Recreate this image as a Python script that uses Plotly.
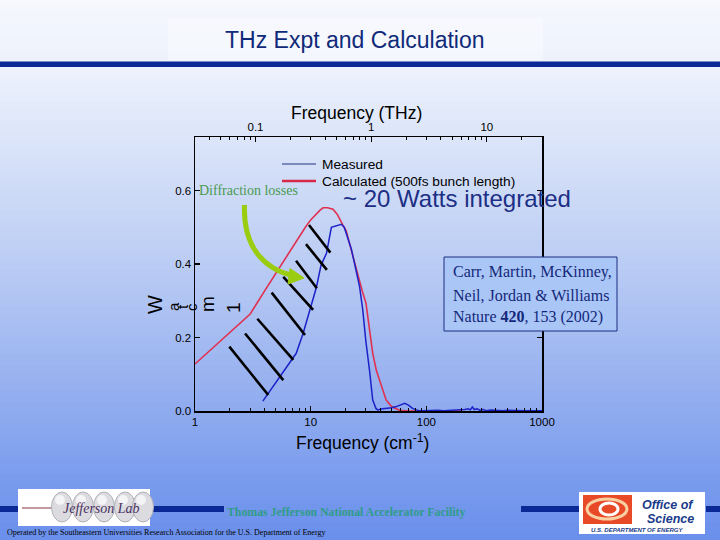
import plotly.graph_objects as go
import math

# ---------------- data ----------------
meas_x = [3.86, 4.5, 5.5, 6.5, 7.5, 8.6, 10, 11.2, 12.3, 13.7, 15.1, 16.5, 18.4, 19.5, 21, 22.5,
          24, 26.5, 28.2, 30, 32.3, 33.3, 34.4, 36.7, 38, 42, 45, 50, 55, 60, 65, 70, 76, 82, 87,
          95, 105, 113, 125, 140, 160, 180, 200, 215, 230, 240, 250, 260, 275, 290, 310, 330, 360,
          390, 420, 460, 500, 560, 620, 700, 800, 900, 1000]
meas_y = [0.027, 0.057, 0.096, 0.128, 0.157, 0.211, 0.281, 0.336, 0.397, 0.429, 0.50, 0.503, 0.508,
          0.50, 0.47, 0.44, 0.40, 0.338, 0.275, 0.19, 0.11, 0.06, 0.03, 0.007, 0.003, 0.006, 0.007,
          0.009, 0.012, 0.016, 0.021, 0.016, 0.007, 0.003, 0.001, 0.001, 0.002, 0.001, 0.002, 0.001,
          0.002, 0.001, 0.002, 0.004, 0.006, 0.003, 0.011, 0.004, 0.006, 0.002, 0.004, 0.001, 0.003,
          0.002, 0.003, 0.001, 0.002, 0.001, 0.001, 0.001, 0.001, 0.001, 0.001]

calc_x = [1, 1.5, 2, 3, 4, 5, 6, 7, 8, 9, 10, 11, 12, 12.8, 14, 15.6, 17, 19, 20.3, 21.5, 23.2, 26,
          28, 30.1, 32, 34.4, 37, 39.3, 42, 44.9, 50, 58.5, 70, 100, 150, 200]
calc_y = [0.128, 0.178, 0.215, 0.264, 0.327, 0.375, 0.414, 0.447, 0.476, 0.50, 0.52, 0.535, 0.546,
          0.553, 0.553, 0.549, 0.535, 0.506, 0.49, 0.46, 0.42, 0.36, 0.325, 0.293, 0.225, 0.157,
          0.11, 0.084, 0.055, 0.03, 0.012, 0.002, 0, 0, 0, 0]

# hatching strokes (data units: cm^-1, W/cm^-1)
hatch_x0 = [1.98, 2.71, 3.46, 4.60, 5.80, 7.47, 9.11, 9.67]
hatch_y0 = [0.175, 0.211, 0.251, 0.322, 0.365, 0.409, 0.454, 0.506]
hatch_x1 = [4.30, 5.80, 7.08, 8.93, 10.5, 11.3, 13.8, 14.8]
hatch_y1 = [0.0435, 0.084, 0.139, 0.207, 0.275, 0.334, 0.384, 0.431]

cm_ticks = [1, 10, 100, 1000]
cm_ticktext = ["1", "10", "100", "1000"]
thz_ticks = [0.1, 1, 10]
thz_ticktext = ["0.1", "1", "10"]
y_ticks = [0.0, 0.2, 0.4, 0.6]
y_ticktext = ["0.0", "0.2", "0.4", "0.6"]
CM_PER_THZ = 33.356

# ---------------- geometry helpers ----------------
W, H = 720, 540
def P(x, y):
    return x / W, 1 - y / H

SANS = "Liberation Sans"
SERIF = "Liberation Serif"
NAVY = "#0a2896"

shapes = []
annotations = []

def rect(x0, y0, x1, y1, fill, line_color=None, lw=0, layer="below", opacity=1):
    a, b = P(x0, y0)
    c, d = P(x1, y1)
    shapes.append(dict(type="rect", xref="paper", yref="paper", x0=a, y0=b, x1=c, y1=d,
                       fillcolor=fill, opacity=opacity,
                       line=dict(color=line_color or fill, width=lw), layer=layer))

def ellipse(cx, cy, rx, ry, fill, line_color, lw=1, layer="above"):
    a, b = P(cx - rx, cy - ry)
    c, d = P(cx + rx, cy + ry)
    shapes.append(dict(type="circle", xref="paper", yref="paper", x0=a, y0=b, x1=c, y1=d,
                       fillcolor=fill, line=dict(color=line_color, width=lw), layer=layer))

def seg(x0, y0, x1, y1, color, lw, layer="above"):
    a, b = P(x0, y0)
    c, d = P(x1, y1)
    shapes.append(dict(type="line", xref="paper", yref="paper", x0=a, y0=b, x1=c, y1=d,
                       line=dict(color=color, width=lw), layer=layer))

def text(x, y, s, size, color="black", family=SANS, xanchor="center", angle=0):
    a, b = P(x, y)
    annotations.append(dict(x=a, y=b, xref="paper", yref="paper", text=s, showarrow=False,
                            xanchor=xanchor, yanchor="middle", textangle=angle,
                            font=dict(size=size, color=color, family=family)))

# ---------------- background gradient ----------------
stops = [(0, (246, 248, 253)), (70, (236, 241, 252)), (160, (214, 225, 248)),
         (270, (185, 203, 244)), (380, (152, 178, 240)), (470, (125, 158, 238)),
         (540, (106, 143, 236))]
def grad(y):
    for (ya, ca), (yb, cb) in zip(stops[:-1], stops[1:]):
        if ya <= y <= yb:
            t = (y - ya) / (yb - ya)
            return "rgb(%d,%d,%d)" % tuple(round(ca[i] + t * (cb[i] - ca[i])) for i in range(3))
    return "rgb(106,143,236)"
step = 6
for i in range(0, H, step):
    rect(0, i, W, i + step + 0.6, grad(i + step / 2))

# title box + rule
rect(168, 18, 543, 60, "white", opacity=0.35)
rect(0, 61.5, W, 67, NAVY)

# footer bars
for a, b in [(0, 18), (150, 224), (521, 579), (706, 720)]:
    rect(a, 506, b, 512, NAVY)

# Jefferson Lab logo
rect(18, 489, 150, 526, "white", layer="above")
seg(22, 508, 55, 508, "#8a3040", 1)
for cx in [62, 83, 104, 125, 143]:
    ellipse(cx, 507, 10.5, 15, "#dcdce0", "#b0b0b8", 1)
    ellipse(cx - 2, 500, 5, 5, "#f4f4f6", "#f4f4f6", 0)
text(101, 508, "<i>Jefferson Lab</i>", 14, "#4a3060", SERIF)

# Office of Science logo
rect(579, 492, 705, 534, "white", layer="above")
rect(583, 495, 632, 524, "#e84a28", layer="above")
ellipse(607, 509, 20, 10, "rgba(0,0,0,0)", "#fbd0a0", 3)
ellipse(609, 509, 9, 6, "rgba(0,0,0,0)", "white", 3)
text(668, 505, "<b><i>Office of</i></b>", 12.5, "#1a3a8a", SANS)
text(670, 518.5, "<b><i>Science</i></b>", 12.5, "#1a3a8a", SANS)
text(637, 529.5, "<b><i>U.S. DEPARTMENT OF ENERGY</i></b>", 6, "#1a3a8a", SANS)

# footer texts
text(345.5, 512, "<b>Thomas Jefferson National Accelerator Facility</b>", 11.8, "#2f9c88", SERIF)
text(5, 532.5, "Operated by the Southeastern Universities Research Association for the U.S. Department of Energy",
     8, "black", SERIF, xanchor="left")

# title
text(355, 39.5, "THz Expt and Calculation", 23, "#102a7a", SANS)

# legend (custom)
seg(282, 164, 316, 164, "#203080", 1.2)
seg(282, 181, 316, 181, "#d82848", 2.5)
text(320, 164, "Measured", 13.7, "black", SANS, xanchor="left")
text(320, 181, "Calculated (500fs bunch length)", 13.7, "black", SANS, xanchor="left")

# axis titles
text(356, 113, "Frequency (THz)", 17.5, "black", SANS)
text(362, 442, "Frequency (cm<sup>-1</sup>)", 17.5, "black", SANS)

# garbled rotated y-label
text(155, 305, "W", 20, "black", SANS, angle=-90)
for x, ch in [(173, "a"), (182, "t"), (191, "c")]:
    text(x, 307, ch, 15, "black", SANS, angle=-90)
text(207, 304, "m", 19, "black", SANS, angle=-90)
text(233, 308, "1", 19, "black", SANS, angle=-90)

# other annotations
text(197, 191, "Diffraction losses", 14, "#4a9a50", SERIF, xanchor="left")
text(457, 199, "~ 20 Watts integrated", 24, "#1c2f85", SANS)

# citation box
rect(444, 257, 617, 331, "#aac6f7", line_color="#1a2f80", lw=1, layer="above")
text(451, 272, "Carr, Martin, McKinney,", 16, "#14287a", SERIF, xanchor="left")
text(451, 295, "Neil, Jordan &amp; Williams", 16, "#14287a", SERIF, xanchor="left")
text(451, 317, "Nature <b>420</b>, 153 (2002)", 16, "#14287a", SERIF, xanchor="left")

# green curved arrow
def ppath(pts):
    out = []
    for cmd, coords in pts:
        s = " ".join("%.5f,%.5f" % P(x, y) for x, y in coords)
        out.append(cmd + s)
    return " ".join(out)
shapes.append(dict(type="path", xref="paper", yref="paper", layer="above",
                   path=ppath([("M", [(244.5, 205)]), ("C", [(243, 245), (262, 268), (292, 275.5)])]),
                   line=dict(color="#9acd10", width=5)))
shapes.append(dict(type="path", xref="paper", yref="paper", layer="above",
                   path=ppath([("M", [(304, 278)]), ("L", [(290, 268.5)]), ("L", [(288, 284)]), ("Z", [])]),
                   fillcolor="#9acd10", line=dict(color="#9acd10", width=1)))

# ---------------- traces ----------------
fig = go.Figure()
fig.add_trace(go.Scatter(x=calc_x, y=calc_y, mode="lines", line=dict(color="#e03050", width=1.6),
                         showlegend=False, hoverinfo="skip"))
fig.add_trace(go.Scatter(x=meas_x, y=meas_y, mode="lines", line=dict(color="#1c22c8", width=1.5),
                         showlegend=False, hoverinfo="skip"))
hx, hy = [], []
for a, b, c, d in zip(hatch_x0, hatch_y0, hatch_x1, hatch_y1):
    hx += [a, c, None]
    hy += [b, d, None]
fig.add_trace(go.Scatter(x=hx, y=hy, mode="lines", line=dict(color="black", width=2.6),
                         showlegend=False, hoverinfo="skip"))
# carrier for THz axis
fig.add_trace(go.Scatter(x=[c / CM_PER_THZ for c in calc_x], y=calc_y, xaxis="x2", yaxis="y",
                         mode="lines", line=dict(width=0, color="rgba(0,0,0,0)"),
                         showlegend=False, hoverinfo="skip"))

minor_cm = [m * d for d in (1, 10, 100) for m in range(2, 10)]
minor_thz = [m * d for d in (0.01, 0.1, 1, 10) for m in range(2, 10)
             if 1 / CM_PER_THZ < m * d < 1000 / CM_PER_THZ]

tickfont = dict(family=SANS, size=11.5, color="black")
X0, X1, YB, YT = 195, 542, 411, 137
fig.update_layout(
    width=W, height=H, autosize=False,
    margin=dict(l=0, r=0, t=0, b=0, pad=0, autoexpand=False),
    paper_bgcolor="rgb(106,143,236)", plot_bgcolor="rgba(0,0,0,0)",
    showlegend=False, dragmode=False, hovermode=False,
    shapes=shapes, annotations=annotations,
    xaxis=dict(type="log", range=[0, 3], domain=[X0 / W, X1 / W], anchor="y", automargin=False,
               tickmode="array", tickvals=cm_ticks, ticktext=cm_ticktext,
               ticks="inside", ticklen=5, tickwidth=1.2, tickcolor="black",
               minor=dict(tickmode="array", tickvals=minor_cm, ticks="inside", ticklen=3,
                          tickcolor="black", tickwidth=1),
               showline=True, linecolor="black", linewidth=1.5, showgrid=False, zeroline=False,
               tickfont=tickfont),
    xaxis2=dict(type="log", overlaying="x", side="top", anchor="y", automargin=False,
                range=[math.log10(1 / CM_PER_THZ), math.log10(1000 / CM_PER_THZ)],
                tickmode="array", tickvals=thz_ticks, ticktext=thz_ticktext,
                ticks="inside", ticklen=5, tickwidth=1.2, tickcolor="black",
                minor=dict(tickmode="array", tickvals=minor_thz, ticks="inside", ticklen=3,
                           tickcolor="black", tickwidth=1),
                showline=True, linecolor="black", linewidth=1.5, showgrid=False, zeroline=False,
                tickfont=tickfont),
    yaxis=dict(range=[0, (YB - YT) / 367.5], domain=[1 - YB / H, 1 - YT / H], anchor="x",
               automargin=False,
               tickmode="array", tickvals=y_ticks, ticktext=y_ticktext,
               ticks="inside", ticklen=5, tickwidth=1.2, tickcolor="black", mirror="ticks",
               showline=True, linecolor="black", linewidth=1.5, showgrid=False, zeroline=False,
               tickfont=tickfont),
)

fig.write_html("out.html", config={"displayModeBar": False, "staticPlot": True},
               post_script="document.body.style.margin='0';document.body.style.padding='0';")
